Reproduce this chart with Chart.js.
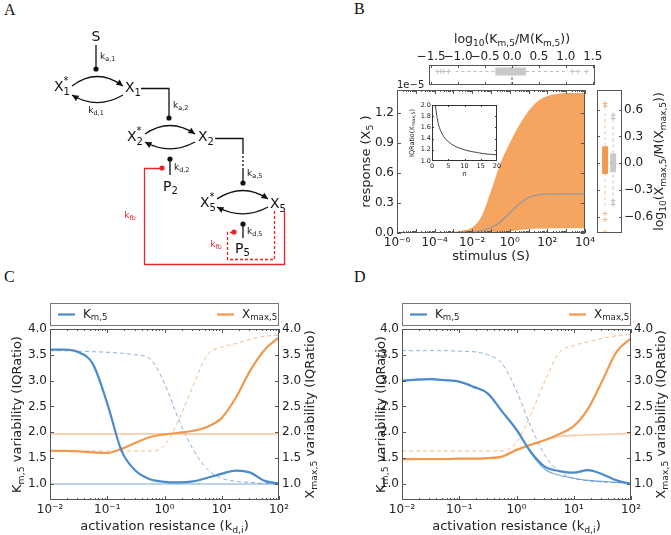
<!DOCTYPE html>
<html>
<head>
<meta charset="utf-8">
<script src="https://cdn.jsdelivr.net/npm/chart.js@4.4.0/dist/chart.umd.min.js"></script>
<style>
  body { margin: 0; background: #fff; width: 671px; height: 535px; position: relative; overflow: hidden; }
  canvas { position: absolute; }
  .tag { position: absolute; font-family: "Liberation Serif", serif; font-size: 16px; color: #111; }
</style>
</head>
<body>
<div class="tag" style="left:4px;top:1px">A</div>
<div class="tag" style="left:354px;top:0px">B</div>
<div class="tag" style="left:4px;top:268px">C</div>
<div class="tag" style="left:354px;top:268px">D</div>

<canvas id="diag" width="330" height="290" style="left:0;top:0"></canvas>
<canvas id="bMain" width="268" height="210" style="left:330px;top:70px"></canvas>
<canvas id="bInset" width="110" height="90" style="left:395px;top:95px"></canvas>
<canvas id="bTop" width="230" height="65" style="left:400px;top:25px"></canvas>
<canvas id="bRight" width="81" height="170" style="left:590px;top:80px"></canvas>
<canvas id="cChart" width="335" height="240" style="left:0;top:295px"></canvas>
<canvas id="dChart" width="336" height="240" style="left:335px;top:295px"></canvas>

<script>
// ---- data ----
// panel B: response envelope vs stimulus (values in units of 1e-5)
const stim = [1e-6, 3.2e-6, 1e-5, 3.2e-5, 1e-4, 3.2e-4, 1e-3, 3.2e-3, 1e-2, 3.2e-2, 0.1, 0.32, 1, 3.2, 10, 32, 100, 320, 1000, 3200, 1e4];
const respUpper = [0, 0.001, 0.002, 0.003, 0.005, 0.008, 0.013, 0.025, 0.055, 0.17, 0.42, 0.70, 0.90, 1.08, 1.22, 1.32, 1.37, 1.39, 1.40, 1.40, 1.40];
const respLower = [0, 0, 0, 0, 0, 0, 0, 0, 0, 0, 0, 0.004, 0.015, 0.03, 0.04, 0.045, 0.046, 0.047, 0.047, 0.047, 0.047];
const respMedian = [0, 0, 0.0005, 0.001, 0.0015, 0.002, 0.003, 0.005, 0.01, 0.025, 0.055, 0.11, 0.20, 0.29, 0.355, 0.382, 0.39, 0.392, 0.392, 0.392, 0.392];

// inset: IQRatio of X_max,5 vs n
const insetN = [1, 1.5, 2, 3, 4, 5, 6, 8, 10, 12, 14, 16, 18, 20];
const insetIqr = [2.0, 1.8, 1.65, 1.5, 1.4, 1.35, 1.3, 1.24, 1.2, 1.17, 1.15, 1.13, 1.12, 1.11];

// marginal box plots
const kmBox = [-0.31, 0.26], kmMedian = 0.0, kmWhisk = [-1.05, 1.0];
const kmFliers = [-1.38, -1.32, -1.27, -1.18, 1.12, 1.22, 1.38];
const xmBoxO = [-0.12, 0.19], xmMedO = 0.01, xmWhiskO = [-0.48, 0.6];
const xmFliersO = [0.64, 0.67, -0.56, -0.63, -0.77];
const xmBoxG = [-0.10, 0.11], xmMedG = 0.0, xmWhiskG = [-0.36, 0.46];
const xmFliersG = [0.5, 0.54, -0.42, -0.46];

// panels C and D: variability vs activation resistance
const kd = [0.01, 0.0178, 0.0316, 0.0562, 0.1, 0.178, 0.316, 0.562, 1, 1.78, 3.16, 5.62, 10, 17.8, 31.6, 56.2, 100];
const cKmSolid = [3.60, 3.60, 3.55, 3.32, 2.56, 1.64, 1.25, 1.09, 1.04, 1.03, 1.05, 1.12, 1.20, 1.26, 1.22, 1.06, 1.01];
const cKmThin  = [1.00, 1.00, 1.00, 1.00, 1.00, 1.00, 1.00, 1.00, 1.00, 1.00, 1.00, 1.00, 1.00, 1.00, 1.00, 1.00, 1.00];
const cKmDash  = [3.58, 3.58, 3.57, 3.56, 3.55, 3.53, 3.50, 3.42, 2.95, 2.24, 1.67, 1.28, 1.11, 1.05, 1.03, 1.01, 1.00];
const cXmSolid = [1.64, 1.64, 1.63, 1.61, 1.60, 1.68, 1.80, 1.91, 1.96, 1.99, 2.03, 2.11, 2.28, 2.68, 3.20, 3.60, 3.84];
const cXmThin  = [1.97, 1.97, 1.97, 1.97, 1.97, 1.97, 1.97, 1.97, 1.97, 1.97, 1.97, 1.97, 1.97, 1.97, 1.97, 1.97, 1.97];
const cXmDash  = [1.64, 1.64, 1.64, 1.64, 1.64, 1.64, 1.64, 1.64, 1.75, 2.25, 2.90, 3.50, 3.65, 3.72, 3.80, 3.86, 3.88];

const dKmSolid = [3.00, 3.02, 3.03, 3.01, 2.98, 2.88, 2.75, 2.40, 2.05, 1.62, 1.33, 1.25, 1.22, 1.27, 1.19, 1.07, 1.00];
const dKmThin  = [3.00, 3.02, 3.03, 3.01, 2.98, 2.88, 2.75, 2.40, 2.05, 1.60, 1.28, 1.17, 1.11, 1.07, 1.05, 1.03, 1.01];
const dKmDash  = [3.58, 3.58, 3.58, 3.58, 3.57, 3.56, 3.50, 3.33, 2.80, 2.11, 1.55, 1.24, 1.11, 1.06, 1.04, 1.03, 1.02];
const dXmSolid = [1.48, 1.48, 1.48, 1.48, 1.49, 1.49, 1.50, 1.53, 1.66, 1.76, 1.85, 1.97, 2.12, 2.46, 3.00, 3.56, 3.82];
const dXmThin  = [1.48, 1.48, 1.48, 1.48, 1.49, 1.49, 1.50, 1.53, 1.66, 1.76, 1.85, 1.92, 1.94, 1.95, 1.96, 1.97, 1.98];
const dXmDash  = [1.64, 1.64, 1.64, 1.64, 1.64, 1.64, 1.64, 1.64, 1.80, 2.35, 3.00, 3.55, 3.68, 3.75, 3.82, 3.87, 3.90];

const iqrTicks = [1.0, 1.5, 2.0, 2.5, 3.0, 3.5, 4.0];
const kdTicks = [0.01, 0.1, 1, 10, 100];
const stimTicks = [1e-6, 1e-5, 1e-4, 1e-3, 1e-2, 1e-1, 1, 10, 100, 1000, 1e4];
const respTicks = [0, 0.3, 0.6, 0.9, 1.2];
const kmTicks = [-1.5, -1.0, -0.5, 0.0, 0.5, 1.0, 1.5];
const xmTicks = [-0.6, -0.3, 0.0, 0.3, 0.6];

// ---- styling ----
const blue = '#4a8bcb', orange = '#f0994f', fillOrange = '#f5a560', ink = '#222', frameCol = '#555';
const FONT = '"DejaVu Sans"';

const supMap = { '-': '⁻', '0': '⁰', '1': '¹', '2': '²', '3': '³', '4': '⁴', '5': '⁵', '6': '⁶', '7': '⁷', '8': '⁸', '9': '⁹' };
const pow10 = v => '10' + String(Math.round(Math.log10(v))).split('').map(c => supMap[c]).join('');
const minus = v => (v < 0 ? '−' : '') + Math.abs(v).toFixed(1);
const xy = (xs, ys) => xs.map((x, i) => ({ x: x, y: ys[i] }));
const minors = (lo, hi) => {
  const out = [];
  for (let e = lo; e < hi; e++) for (let m = 2; m <= 9; m++) out.push(m * Math.pow(10, e));
  return out;
};

// text with _{sub} and ^{sup}
function parseRich(s) {
  const segs = [];
  let i = 0;
  while (i < s.length) {
    if ((s[i] === '_' || s[i] === '^') && s[i + 1] === '{') {
      const j = s.indexOf('}', i);
      segs.push({ t: s.slice(i + 2, j), m: s[i] === '_' ? 1 : 2 });
      i = j + 1;
    } else {
      let j = i;
      while (j < s.length && !((s[j] === '_' || s[j] === '^') && s[j + 1] === '{')) j++;
      segs.push({ t: s.slice(i, j), m: 0 });
      i = j;
    }
  }
  return segs;
}
function richText(ctx, s, x, y, size, o) {
  o = o || {};
  const segs = parseRich(s);
  const fnt = m => (m ? size * 0.72 : size) + 'px ' + (o.family || FONT);
  ctx.save();
  let w = 0;
  segs.forEach(sg => { ctx.font = fnt(sg.m); sg.w = ctx.measureText(sg.t).width; w += sg.w; });
  ctx.translate(x, y);
  if (o.rot) ctx.rotate(o.rot);
  let cx = o.align === 'left' ? 0 : o.align === 'right' ? -w : -w / 2;
  ctx.fillStyle = o.color || ink;
  ctx.textBaseline = 'middle';
  ctx.textAlign = 'left';
  segs.forEach(sg => {
    ctx.font = fnt(sg.m);
    const dy = sg.m === 1 ? size * 0.3 : sg.m === 2 ? -size * 0.38 : 0;
    ctx.fillText(sg.t, cx, dy);
    cx += sg.w;
  });
  ctx.restore();
}

// frame around the plot area with inward tick marks
const framePlugin = {
  id: 'frame',
  afterDatasetsDraw(chart, args, opts) {
    const ctx = chart.ctx, a = chart.chartArea;
    ctx.save();
    ctx.strokeStyle = opts.color || frameCol;
    ctx.lineWidth = 1;
    (opts.marks || []).forEach(m => {
      const sc = chart.scales[m.scale];
      m.values.forEach(v => {
        const p = Math.round(sc.getPixelForValue(v)) + 0.5;
        ctx.beginPath();
        m.sides.forEach(side => {
          if (side === 'bottom') { ctx.moveTo(p, a.bottom); ctx.lineTo(p, a.bottom - m.len); }
          if (side === 'top') { ctx.moveTo(p, a.top); ctx.lineTo(p, a.top + m.len); }
          if (side === 'left') { ctx.moveTo(a.left, p); ctx.lineTo(a.left + m.len, p); }
          if (side === 'right') { ctx.moveTo(a.right, p); ctx.lineTo(a.right - m.len, p); }
        });
        ctx.stroke();
      });
    });
    ctx.strokeRect(Math.round(a.left) + 0.5, Math.round(a.top) + 0.5, Math.round(a.width) - 1, Math.round(a.height) - 1);
    ctx.restore();
  }
};

// axis titles and other labels placed relative to the plot area
const textPlugin = {
  id: 'texts',
  afterDraw(chart, args, opts) {
    const a = chart.chartArea;
    (opts.items || []).forEach(it => {
      const p = it.at(a);
      richText(chart.ctx, it.text, p[0], p[1], it.size || 13, it);
    });
  }
};

// matplotlib-like legend box above the plot
const legendPlugin = {
  id: 'boxLegend',
  afterDraw(chart, args, opts) {
    if (!opts.entries) return;
    const ctx = chart.ctx, a = chart.chartArea;
    ctx.save();
    ctx.strokeStyle = '#777';
    ctx.lineWidth = 1;
    ctx.strokeRect(Math.round(a.left) + 0.5, a.top - 25.5, Math.round(a.width) - 1, 22);
    opts.entries.forEach(en => {
      const ds = chart.data.datasets[en.index];
      const y = a.top - 14.5;
      ctx.strokeStyle = ds.borderColor;
      ctx.lineWidth = 2.2;
      ctx.beginPath();
      ctx.moveTo(a.left + en.dx, y);
      ctx.lineTo(a.left + en.dx + 17, y);
      ctx.stroke();
      richText(ctx, ds.label, a.left + en.dx + 25, y, 12, { align: 'left' });
    });
    ctx.restore();
  }
};

const whitePlugin = {
  id: 'whiteArea',
  beforeDraw(chart) {
    const a = chart.chartArea;
    chart.ctx.save();
    chart.ctx.fillStyle = '#fff';
    chart.ctx.fillRect(a.left, a.top, a.width, a.height);
    chart.ctx.restore();
  }
};

const tickFont = size => ({ family: FONT, size: size });
const setTicks = vals => s => { s.ticks = vals.map(v => ({ value: v })); };
const fixW = w => s => { s.width = w; };
const fixH = h => s => { s.height = h; };
const noGrid = { display: false, drawTicks: false };
const baseOpts = {
  responsive: false,
  animation: false,
  events: [],
  elements: { point: { radius: 0 } }
};

// ---- panels C and D ----
function iqrChart(id, s, g) {
  const line = (label, data, color, width, dash) => ({
    label: label, data: xy(kd, data), borderColor: color, borderWidth: width,
    borderDash: dash || [], cubicInterpolationMode: 'monotone', fill: false, pointRadius: 0
  });
  new Chart(document.getElementById(id), {
    type: 'line',
    data: {
      datasets: [
        line('K_{m,5}', s.kmSolid, blue, 2.2),
        line('X_{max,5}', s.xmSolid, orange, 2.2),
        line('', s.kmThin, 'rgba(74,139,203,0.75)', 1.1),
        line('', s.xmThin, 'rgba(240,153,79,0.5)', 1.6),
        line('', s.kmDash, 'rgba(74,139,203,0.75)', 0.9, [4, 3]),
        line('', s.xmDash, 'rgba(240,153,79,0.75)', 0.9, [4, 3])
      ]
    },
    options: Object.assign({}, baseOpts, {
      layout: { padding: { top: 34, left: 0, right: 0, bottom: 0 } },
      scales: {
        x: {
          type: 'logarithmic', min: 0.01, max: 100, grid: noGrid, border: { display: false },
          afterBuildTicks: setTicks(kdTicks), afterFit: fixH(35),
          ticks: { callback: v => pow10(v), color: ink, font: tickFont(12), padding: 3, maxRotation: 0 }
        },
        y: {
          min: 0.69, max: 4.0, grid: noGrid, border: { display: false },
          afterBuildTicks: setTicks(iqrTicks), afterFit: fixW(g.left),
          ticks: { callback: v => v.toFixed(1), color: ink, font: tickFont(12), padding: 3 }
        },
        y2: {
          position: 'right', min: 0.69, max: 4.0, grid: noGrid, border: { display: false },
          afterBuildTicks: setTicks(iqrTicks), afterFit: fixW(g.right),
          ticks: { callback: v => v.toFixed(1), color: ink, font: tickFont(12), padding: 3 }
        }
      },
      plugins: {
        legend: { display: false }, tooltip: { enabled: false },
        frame: {
          marks: [
            { scale: 'x', values: kdTicks, sides: ['bottom', 'top'], len: 4 },
            { scale: 'x', values: minors(-2, 2), sides: ['bottom', 'top'], len: 2 },
            { scale: 'y', values: iqrTicks, sides: ['left', 'right'], len: 4 }
          ]
        },
        boxLegend: { entries: [{ index: 0, dx: 8 }, { index: 1, dx: 167 }] },
        texts: {
          items: [
            { text: 'activation resistance (k_{d,i})', size: 13, at: a => [(a.left + a.right) / 2, a.bottom + 27] },
            { text: 'K_{m,5} variability (IQRatio)', size: 13, rot: -Math.PI / 2, at: a => [g.ylab, (a.top + a.bottom) / 2] },
            { text: 'X_{max,5} variability (IQRatio)', size: 13, rot: -Math.PI / 2, at: a => [g.y2lab, (a.top + a.bottom) / 2] }
          ]
        }
      }
    }),
    plugins: [framePlugin, textPlugin, legendPlugin]
  });
}

iqrChart('cChart', { kmSolid: cKmSolid, kmThin: cKmThin, kmDash: cKmDash, xmSolid: cXmSolid, xmThin: cXmThin, xmDash: cXmDash },
  { left: 50, right: 56, ylab: 18, y2lab: 311 });
iqrChart('dChart', { kmSolid: dKmSolid, kmThin: dKmThin, kmDash: dKmDash, xmSolid: dXmSolid, xmThin: dXmThin, xmDash: dXmDash },
  { left: 67, right: 40, ylab: 47, y2lab: 327 });

// ---- panel B main ----
new Chart(document.getElementById('bMain'), {
  type: 'line',
  data: {
    datasets: [
      { data: xy(stim, respUpper), borderWidth: 0, borderColor: fillOrange, backgroundColor: fillOrange, fill: '+1', cubicInterpolationMode: 'monotone', order: 2 },
      { data: xy(stim, respLower), borderWidth: 0, borderColor: fillOrange, fill: false, cubicInterpolationMode: 'monotone', order: 3 },
      { data: xy(stim, respMedian), borderWidth: 1.2, borderColor: '#8f98a2', fill: false, cubicInterpolationMode: 'monotone', order: 1 }
    ]
  },
  options: Object.assign({}, baseOpts, {
    layout: { padding: { top: 20, left: 0, right: 3, bottom: 0 } },
    scales: {
      x: {
        type: 'logarithmic', min: 1e-6, max: 1e4, grid: noGrid, border: { display: false },
        afterBuildTicks: setTicks(stimTicks), afterFit: fixH(47),
        ticks: { callback: v => (Math.round(Math.log10(v)) % 2 === 0 ? pow10(v) : ''), color: ink, font: tickFont(12), padding: 3, maxRotation: 0, autoSkip: false }
      },
      y: {
        min: 0, max: 1.43, grid: noGrid, border: { display: false },
        afterBuildTicks: setTicks(respTicks), afterFit: fixW(67),
        ticks: { callback: v => v.toFixed(1), color: ink, font: tickFont(12), padding: 3 }
      }
    },
    plugins: {
      legend: { display: false }, tooltip: { enabled: false },
      frame: {
        marks: [
          { scale: 'x', values: stimTicks, sides: ['bottom', 'top'], len: 4 },
          { scale: 'x', values: minors(-6, 4), sides: ['bottom', 'top'], len: 2 },
          { scale: 'y', values: respTicks, sides: ['left', 'right'], len: 4 }
        ]
      },
      texts: {
        items: [
          { text: 'stimulus (S)', size: 13, at: a => [(a.left + a.right) / 2, a.bottom + 24] },
          { text: 'response (X_{5} )', size: 13, rot: -Math.PI / 2, at: a => [37, (a.top + a.bottom) / 2] },
          { text: '1e−5', size: 10, align: 'left', at: a => [a.left, a.top - 5] }
        ]
      }
    }
  }),
  plugins: [framePlugin, textPlugin]
});

// ---- panel B inset ----
new Chart(document.getElementById('bInset'), {
  type: 'line',
  data: { datasets: [{ data: xy(insetN, insetIqr), borderColor: '#333', borderWidth: 0.9, fill: false, cubicInterpolationMode: 'monotone' }] },
  options: Object.assign({}, baseOpts, {
    layout: { padding: { top: 10, left: 0, right: 8, bottom: 0 } },
    scales: {
      x: {
        type: 'linear', min: 0, max: 20, grid: noGrid, border: { display: false },
        afterBuildTicks: setTicks([0, 5, 10, 15, 20]), afterFit: fixH(24),
        ticks: { color: ink, font: tickFont(6.5), padding: 1, maxRotation: 0 }
      },
      y: {
        min: 1.0, max: 2.0, grid: noGrid, border: { display: false },
        afterBuildTicks: setTicks([1.0, 1.2, 1.4, 1.6, 1.8, 2.0]), afterFit: fixW(37),
        ticks: { callback: v => v.toFixed(1), color: ink, font: tickFont(6.5), padding: 1 }
      }
    },
    plugins: {
      legend: { display: false }, tooltip: { enabled: false },
      frame: {
        color: '#333',
        marks: [
          { scale: 'x', values: [5, 10, 15], sides: ['bottom', 'top'], len: 2 },
          { scale: 'y', values: [1.2, 1.4, 1.6, 1.8], sides: ['left', 'right'], len: 2 }
        ]
      },
      texts: {
        items: [
          { text: 'n', size: 7, at: a => [(a.left + a.right) / 2, a.bottom + 13] },
          { text: 'IQRatio(X_{max,5})', size: 6.5, rot: -Math.PI / 2, at: a => [17, (a.top + a.bottom) / 2] }
        ]
      }
    }
  }),
  plugins: [whitePlugin, framePlugin, textPlugin]
});

// ---- panel B top box plot (K_m,5) ----
const rowY = 0.35;
new Chart(document.getElementById('bTop'), {
  type: 'line',
  data: {
    datasets: [
      { data: [{ x: kmBox[0], y: rowY }, { x: kmBox[1], y: rowY }], borderColor: '#c9c9c9', borderWidth: 8, borderCapStyle: 'butt' },
      { data: [{ x: kmWhisk[0], y: rowY }, { x: kmBox[0], y: rowY }], borderColor: '#bdbdbd', borderWidth: 1, borderDash: [3, 3] },
      { data: [{ x: kmBox[1], y: rowY }, { x: kmWhisk[1], y: rowY }], borderColor: '#bdbdbd', borderWidth: 1, borderDash: [3, 3] },
      { data: [{ x: kmMedian, y: -1 }, { x: kmMedian, y: 1 }], borderColor: '#555', borderWidth: 1, borderDash: [3, 2] },
      { data: kmFliers.map(v => ({ x: v, y: rowY })), showLine: false, pointStyle: 'cross', pointRadius: 2.5, pointBorderColor: '#c4c4c4', pointBorderWidth: 1 }
    ]
  },
  options: Object.assign({}, baseOpts, {
    layout: { padding: { top: 0, left: 29, right: 35, bottom: 2 } },
    scales: {
      x: {
        type: 'linear', position: 'top', min: -1.54, max: 1.54, grid: noGrid, border: { display: false },
        afterBuildTicks: setTicks(kmTicks), afterFit: fixH(40),
        ticks: { callback: v => minus(v), color: ink, font: tickFont(12), padding: 1, maxRotation: 0, autoSkip: false }
      },
      y: { display: false, min: -1, max: 1 }
    },
    plugins: {
      legend: { display: false }, tooltip: { enabled: false },
      frame: { marks: [{ scale: 'x', values: kmTicks, sides: ['bottom', 'top'], len: 3 }] },
      texts: { items: [{ text: 'log_{10}(K_{m,5}/M(K_{m,5}))', size: 12.5, at: a => [(a.left + a.right) / 2, a.top - 25] }] }
    }
  }),
  plugins: [framePlugin, textPlugin]
});

// ---- panel B right box plots (X_max,5) ----
const boxSets = (xPos, box, med, whisk, fliers, col, wcol, mcol) => [
  { data: [{ x: xPos, y: box[0] }, { x: xPos, y: box[1] }], borderColor: col, borderWidth: 6, borderCapStyle: 'butt' },
  { data: [{ x: xPos, y: whisk[0] }, { x: xPos, y: box[0] }], borderColor: wcol, borderWidth: 0.9, borderDash: [3, 3] },
  { data: [{ x: xPos, y: box[1] }, { x: xPos, y: whisk[1] }], borderColor: wcol, borderWidth: 0.9, borderDash: [3, 3] },
  { data: [{ x: xPos - 0.4, y: med }, { x: xPos + 0.4, y: med }], borderColor: mcol, borderWidth: 1 },
  { data: fliers.map(v => ({ x: xPos, y: v })), showLine: false, pointStyle: 'cross', pointRadius: 2.5, pointBorderColor: wcol, pointBorderWidth: 1 }
];
new Chart(document.getElementById('bRight'), {
  type: 'line',
  data: {
    datasets: boxSets(1, xmBoxO, xmMedO, xmWhiskO, xmFliersO, orange, 'rgba(240,153,79,0.7)', '#7a5232')
      .concat(boxSets(2, xmBoxG, xmMedG, xmWhiskG, xmFliersG, '#c9c9c9', '#bdbdbd', '#666'))
  },
  options: Object.assign({}, baseOpts, {
    layout: { padding: { top: 10, left: 7, right: 0, bottom: 17 } },
    scales: {
      x: { type: 'linear', display: false, min: 0, max: 3.1 },
      y: {
        position: 'right', min: -0.78, max: 0.82, grid: noGrid, border: { display: false },
        afterBuildTicks: setTicks(xmTicks), afterFit: fixW(49),
        ticks: { callback: v => minus(v), color: ink, font: tickFont(12), padding: 2 }
      }
    },
    plugins: {
      legend: { display: false }, tooltip: { enabled: false },
      frame: { marks: [{ scale: 'y', values: xmTicks, sides: ['left', 'right'], len: 3 }] },
      texts: { items: [{ text: 'log_{10}(X_{max,5}/M(X_{max,5}))', size: 12.5, rot: -Math.PI / 2, at: a => [70, (a.top + a.bottom) / 2] }] }
    }
  }),
  plugins: [framePlugin, textPlugin]
});

// ---- panel A: pathway schematic ----
function drawDiagram() {
  const g = document.getElementById('diag').getContext('2d');
  const black = '#111', red = '#e3262b';
  const path = (pts, col, dash) => {
    g.save();
    g.strokeStyle = col; g.lineWidth = 1.3; g.setLineDash(dash || []);
    g.beginPath();
    pts.forEach((p, i) => (i ? g.lineTo(p[0], p[1]) : g.moveTo(p[0], p[1])));
    g.stroke();
    g.restore();
  };
  const dot = (x, y, col) => { g.fillStyle = col; g.beginPath(); g.arc(x, y, 2.6, 0, Math.PI * 2); g.fill(); };
  const head = (x, y, ang) => {
    g.save(); g.translate(x, y); g.rotate(ang); g.fillStyle = black;
    g.beginPath(); g.moveTo(0, 0); g.lineTo(-6.5, -3.2); g.lineTo(-6.5, 3.2); g.closePath(); g.fill();
    g.restore();
  };
  const arc = (x0, y0, cx, cy, x1, y1) => {
    g.save(); g.strokeStyle = black; g.lineWidth = 1.3;
    g.beginPath(); g.moveTo(x0, y0); g.quadraticCurveTo(cx, cy, x1, y1); g.stroke(); g.restore();
    head(x1, y1, Math.atan2(y1 - cy, x1 - cx));
  };
  const cycle = (x0, x1, cx, yT, yB, dip) => {
    arc(x0, yT, cx, yT - dip, x1, yT);
    arc(x1, yB, cx, yB + dip * 0.8, x0, yB);
  };
  const species = (x, y, sub, star) => {
    g.save(); g.font = '14px ' + FONT; g.fillStyle = black; g.textBaseline = 'middle';
    g.fillText('X', x, y);
    const w = g.measureText('X').width;
    g.font = '10px ' + FONT;
    g.fillText(sub, x + w, y + 5);
    if (star) g.fillText('*', x + w, y - 6);
    g.restore();
  };

  richText(g, 'S', 96, 37, 14, { color: black });
  path([[96, 45], [96, 68]], black); dot(96, 69, black);
  richText(g, 'k_{a,1}', 100, 57, 9, { align: 'left', color: black });

  species(54, 87, '1', true); species(125, 88, '1');
  cycle(72, 123, 97, 86, 95, 19);
  richText(g, 'k_{d,1}', 96, 111, 9, { color: black });

  path([[141, 88.5], [169, 88.5], [169, 117]], black); dot(169, 118, black);
  richText(g, 'k_{a,2}', 173, 106, 9, { align: 'left', color: black });

  species(127, 137, '2', true); species(198, 137, '2');
  cycle(145, 195, 170, 134, 142, 17);
  dot(170, 159, black); path([[170, 160], [170, 175]], black);
  richText(g, 'k_{d,2}', 174, 168, 9, { align: 'left', color: black });
  richText(g, 'P_{2}', 163, 187, 14, { align: 'left', color: black });

  path([[215, 138.5], [243, 138.5], [243, 152]], black);
  path([[243, 152], [243, 170]], black, [2, 2]);
  path([[243, 170], [243, 182]], black); dot(243, 183, black);
  richText(g, 'k_{a,5}', 247, 174, 9, { align: 'left', color: black });

  species(200, 203, '5', true); species(270, 204, '5');
  cycle(217, 268, 243, 199, 207, 17);
  dot(243, 224, black); path([[243, 225], [243, 238]], black);
  richText(g, 'k_{d,5}', 247, 232, 9, { align: 'left', color: black });
  richText(g, 'P_{5}', 235, 249, 14, { align: 'left', color: black });

  dot(162, 168, red);
  path([[162, 168.5], [144.5, 168.5], [144.5, 264.5], [284.5, 264.5], [284.5, 211]], red);
  richText(g, 'k_{fb}', 130, 216, 9, { color: red });
  path([[274.5, 211], [274.5, 259.5], [227.5, 259.5], [227.5, 232.5], [234, 232.5]], red, [3, 2]);
  dot(234, 232, red);
  richText(g, 'k_{fb}', 216, 245, 9, { color: red });
}
drawDiagram();
</script>
</body>
</html>
